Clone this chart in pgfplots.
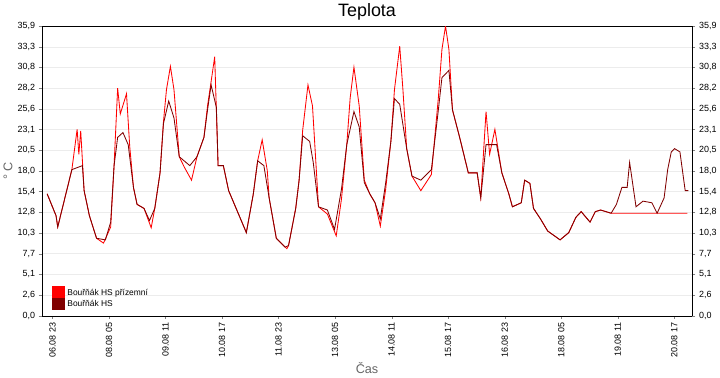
\documentclass[border=0pt]{standalone}
\usepackage{pgfplots}
\pgfplotsset{compat=1.18}
\usepackage{fontspec}
\setmainfont{Liberation Sans}
\definecolor{cred}{HTML}{FF0000}
\definecolor{cdark}{HTML}{800000}
\begin{document}
\begin{tikzpicture}[x=1bp,y=1bp]
\pgfplotsset{
  common/.style={
    scale only axis, width=615bp, height=274bp,
    xmin=17.4, xmax=362.5, ymin=0, ymax=35.9,
    ytick={0,2.564,5.128,7.692,10.256,12.82,15.385,17.949,20.513,23.077,25.641,28.205,30.769,33.333,35.9},
    yticklabels={{0,0},{2,6},{5,1},{7,7},{10,3},{12,8},{15,4},{18,0},{20,5},{23,1},{25,6},{28,2},{30,8},{33,3},{35,9}},
    tick align=outside, major tick length=3bp,
    ticklabel style={font=\fontsize{8.5}{10}\selectfont},
    axis line style={black},
  }
}
\begin{axis}[common,
  at={(50,85)},
  xtick={23,53,83,113,143,173,203,233,263,293,323,353},
  xticklabels={06.08 23,08.08 05,09.08 11,10.08 17,11.08 23,13.08 05,14.08 11,15.08 17,16.08 23,18.08 05,19.08 11,20.08 17},
  xticklabel style={rotate=90,anchor=east},
  ytick pos=left, xtick pos=bottom,
  ymajorgrids, grid style={gray!15},
  title={Teplota}, title style={font=\fontsize{17}{20}\selectfont, yshift=-4bp},
  xlabel={Čas}, xlabel style={font=\fontsize{12}{14}\selectfont, text=gray!80!black, yshift=2bp},
  ylabel={° C}, ylabel style={font=\fontsize{12}{14}\selectfont, text=gray!80!black, yshift=-2bp},
  legend style={at={(0.01,0.01)}, anchor=south west, draw=none, fill=none, font=\fontsize{8}{9}\selectfont, row sep=-1bp},
  legend cell align=left,
  legend image code/.code={\fill[#1] (0bp,-5bp) rectangle (12bp,6bp);},
]
\addplot[cred, line width=0.8bp] coordinates {
(20.2,15.1)(24.9,12.4)(25.8,11.0)(29.6,14.6)(33.3,18.1)(36.1,23.1)(37,20)(38,22.9)(39.8,15.5)(42.6,12.4)(46.4,9.6)(50.1,9.0)(53.9,11.0)(55.7,18.6)(57.6,28.2)(59,25)(62.3,27.5)(64,21)(66,15.9)(67.9,13.8)(71.6,13.3)(75.4,10.9)(77.3,13.3)(80.1,17.7)(81.9,24)(83.5,28)(85.6,30.9)(87.5,28)(90.3,19.7)(93,18.4)(96.8,16.8)(99.7,19.7)(103.4,22.1)(105.3,26)(107.2,29)(109.1,32.1)(110.9,18.6)(113.7,18.6)(116.5,15.5)(122.1,12.4)(125.9,10.3)(129.6,15.1)(131.9,19.2)(134.3,21.8)(137,18)(138,14.6)(141.8,9.6)(147.4,8.3)(148.3,8.7)(152.1,13.3)(153.9,16.8)(155.8,23)(158.6,28.6)(161,26)(164.2,13.5)(168.9,12.6)(173.6,9.9)(176.4,14.5)(179.2,21.2)(181,27)(183,30.8)(185.8,26)(188.5,16.8)(191.4,15.1)(194.2,14.0)(197,11.1)(199.8,15.6)(202.6,21.6)(204.5,28)(207.3,33.4)(209,28)(211,20.7)(213.8,17.3)(218.5,15.5)(224.1,17.5)(227.8,27)(229.7,33)(231.6,35.9)(233.4,33)(235.3,25.5)(239.1,22.1)(243.7,17.7)(248.4,17.7)(250.3,14.6)(253.1,25.3)(255,20)(257.8,23.1)(261.5,17.7)(265.2,15.1)(267.1,13.5)(271.8,14.0)(273.6,16.8)(276.4,16.4)(278.3,13.3)(282,12.0)(285.8,10.5)(292.4,9.4)(297,10.3)(300.8,12.2)(303.6,12.9)(308.3,11.6)(311.1,12.9)(313.9,13.1)(319.5,12.7)(360,12.7)
};
\addlegendentry{Bouřňák HS přízemní}
\addplot[cdark, line width=0.8bp] coordinates {
(20.2,15.1)(24.9,12.4)(25.8,11.0)(29.6,14.6)(33.3,18.1)(38.9,18.6)(39.8,15.5)(42.6,12.4)(46.4,9.6)(51.1,9.4)(53.9,11.6)(55.7,18.6)(57.6,22.1)(60.4,22.7)(63.2,21.2)(66,15.9)(67.9,13.8)(71.6,13.3)(74.5,11.8)(77.3,13.3)(80.1,17.7)(81.9,23.8)(84.7,26.6)(87.5,24.5)(90.3,19.7)(95.9,18.6)(99.7,19.7)(103.4,22.1)(105.3,25.5)(107.2,28.6)(110,25.8)(110.9,18.6)(113.7,18.6)(116.5,15.5)(122.1,12.4)(125.9,10.3)(129.6,15.1)(131.9,19.2)(135.2,18.6)(138,14.6)(141.8,9.6)(146.5,8.5)(148.3,8.7)(152.1,13.3)(153.9,16.8)(155.8,22.3)(159.5,21.6)(161.4,19.0)(164.2,13.5)(168.9,13.1)(172.7,10.7)(176.4,15.7)(179.2,21.2)(183,25.3)(185.8,23.4)(188.5,16.5)(191.4,15.1)(194.2,14.0)(197,12.0)(199.8,16.4)(202.6,21.6)(204.5,26.9)(207.3,26.2)(211,20.7)(213.8,17.3)(218.5,16.8)(224.1,18.1)(227.8,25.5)(229.7,29.5)(233.4,30.4)(235.3,25.5)(239.1,22.1)(243.7,17.7)(248.4,17.7)(250.3,14.6)(253.1,21.2)(258.7,21.2)(261.5,17.7)(265.2,15.1)(267.1,13.5)(271.8,14.0)(273.6,16.8)(276.4,16.4)(278.3,13.3)(282,12.0)(285.8,10.5)(292.4,9.4)(297,10.3)(300.8,12.2)(303.6,12.9)(308.3,11.6)(311.1,12.9)(313.9,13.1)(319.5,12.7)(322.3,13.8)(325.2,15.9)(328,15.9)(329.3,19.0)(332.7,13.5)(336.4,14.2)(341.1,14.0)(343.9,12.7)(347.6,14.6)(349.5,18.1)(351.4,20.3)(353.2,20.7)(356,20.3)(358.8,15.5)(360.5,15.5)
};
\addlegendentry{Bouřňák HS}
\end{axis}
\begin{axis}[common,
  at={(50,85)},
  axis y line*=right, axis x line=none,
]
\addplot[draw=none] coordinates {(20,0)};
\end{axis}
\end{tikzpicture}
\end{document}
